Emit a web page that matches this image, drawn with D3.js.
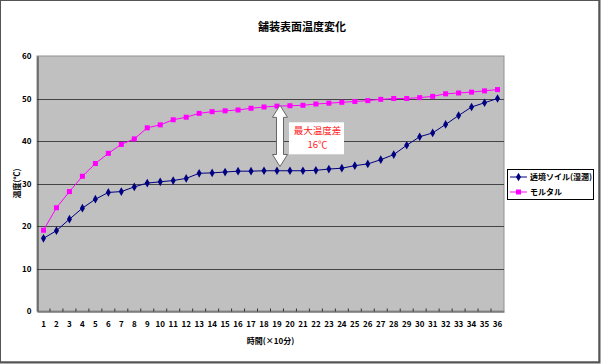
<!DOCTYPE html>
<html>
<head>
<meta charset="utf-8">
<script src="https://cdn.jsdelivr.net/npm/d3@7"></script>
<style>
  body { margin: 0; background: #fff; }
  text { font-family: "Noto Sans CJK JP", "DejaVu Sans", sans-serif; }
</style>
</head>
<body>
<div id="chart"></div>
<script>
const width = 601;
const height = 364;

// data
const steps = d3.range(1, 37).map(String);
const soilValues = [17.1, 18.9, 21.6, 24.2, 26.3, 27.9, 28.1, 29.2, 30.1, 30.4, 30.7, 31.2,
  32.4, 32.5, 32.7, 32.9, 32.9, 33.0, 33.0, 33.0, 33.0, 33.1, 33.4, 33.6,
  34.2, 34.6, 35.6, 36.8, 39.0, 41.0, 41.9, 43.9, 46.0, 48.0, 49.0, 50.0];
const mortarValues = [19.0, 24.3, 28.1, 31.7, 34.7, 37.1, 39.2, 40.5, 43.1, 43.8, 45.0, 45.6,
  46.5, 46.9, 47.1, 47.3, 47.7, 48.0, 48.2, 48.3, 48.4, 48.7, 48.9, 49.1,
  49.3, 49.5, 49.8, 50.0, 50.0, 50.2, 50.5, 51.1, 51.3, 51.5, 51.8, 52.1];
const yTicks = [0, 10, 20, 30, 40, 50, 60];
const seriesNames = ["透境ソイル(湿潤)", "モルタル"];
const titleText = "舗装表面温度変化";
const yTitle = "温度(℃)";
const xTitle = "時間(×10分)";
const noteLines = ["最大温度差", "16℃"];

const plot = { left: 37, right: 504, top: 56, bottom: 311 };

const svg = d3.select("#chart").append("svg")
  .attr("width", width).attr("height", height);

// outer frame
svg.append("rect")
  .attr("x", 0.5).attr("y", 0.5)
  .attr("width", width - 2.5).attr("height", height - 2.5)
  .attr("fill", "#fff").attr("stroke", "#555").attr("stroke-width", 1);
svg.append("path")
  .attr("d", `M${width - 1.5},0V${height - 1.5}H0`)
  .attr("fill", "none").attr("stroke", "#555").attr("stroke-width", 2);

const x = d3.scaleBand().domain(steps).range([plot.left, plot.right]);
const y = d3.scaleLinear().domain([0, 60]).range([plot.bottom, plot.top]);
const cx = (d) => x(d) + x.bandwidth() / 2;

// plot area
svg.append("rect")
  .attr("x", plot.left).attr("y", plot.top)
  .attr("width", plot.right - plot.left).attr("height", plot.bottom - plot.top)
  .attr("fill", "#c0c0c0").attr("stroke", "#909090").attr("stroke-width", 1);

// gridlines
svg.append("g").selectAll("line")
  .data(yTicks.filter((t) => t > 0 && t < 60))
  .enter().append("line")
  .attr("x1", plot.left).attr("x2", plot.right)
  .attr("y1", (d) => Math.round(y(d)) + 0.5).attr("y2", (d) => Math.round(y(d)) + 0.5)
  .attr("stroke", "#444").attr("stroke-width", 1);

// y axis
const yAxis = svg.append("g")
  .attr("transform", `translate(${plot.left + 0.5},0)`)
  .call(d3.axisLeft(y).tickValues(yTicks).tickSize(0).tickPadding(6));
yAxis.select(".domain").attr("stroke", "#333");
yAxis.selectAll("text")
  .attr("font-family", "'DejaVu Sans Condensed', 'DejaVu Sans', sans-serif")
  .attr("font-weight", "bold").attr("font-size", 8).attr("fill", "#000");

// x axis with inner ticks between categories
const xAxis = svg.append("g")
  .attr("transform", `translate(0,${plot.bottom + 0.5})`)
  .call(d3.axisBottom(x).tickSize(0).tickPadding(10));
xAxis.select(".domain").attr("stroke", "#333");
xAxis.selectAll("text")
  .attr("font-family", "'DejaVu Sans Condensed', 'DejaVu Sans', sans-serif")
  .attr("font-weight", "bold").attr("font-size", 8).attr("fill", "#000");
xAxis.selectAll(".sep")
  .data(steps.slice(1))
  .enter().append("line")
  .attr("class", "sep")
  .attr("x1", (d) => x(d)).attr("x2", (d) => x(d))
  .attr("y1", 0).attr("y2", -3)
  .attr("stroke", "#333");

// lines
const line = d3.line().x((d, i) => cx(steps[i])).y((d) => y(d));

svg.append("path")
  .attr("d", line(mortarValues))
  .attr("fill", "none").attr("stroke", "#ff00ff").attr("stroke-width", 1);
svg.append("path")
  .attr("d", line(soilValues))
  .attr("fill", "none").attr("stroke", "#000080").attr("stroke-width", 1);

// markers
svg.append("g").selectAll("rect")
  .data(mortarValues).enter().append("rect")
  .attr("x", (d, i) => cx(steps[i]) - 2.5).attr("y", (d) => y(d) - 2.5)
  .attr("width", 5).attr("height", 5)
  .attr("fill", "#ff00ff");

const diamond = d3.symbol().type(d3.symbolDiamond).size(22);
svg.append("g").selectAll("path")
  .data(soilValues).enter().append("path")
  .attr("transform", (d, i) => `translate(${cx(steps[i])},${y(d)})`)
  .attr("d", diamond)
  .attr("fill", "#000080");

// annotation: double arrow + text box
const ax = cx("19") + 3;
const aTop = y(48.4);
const aBot = y(34.0);
const headW = 7.5, shaftW = 3.5, headH = 12;
const arrow = [
  [ax, aTop], [ax + headW, aTop + headH], [ax + shaftW, aTop + headH],
  [ax + shaftW, aBot - headH], [ax + headW, aBot - headH], [ax, aBot],
  [ax - headW, aBot - headH], [ax - shaftW, aBot - headH],
  [ax - shaftW, aTop + headH], [ax - headW, aTop + headH]
];
svg.append("path")
  .attr("d", d3.line()(arrow) + "Z")
  .attr("fill", "#fff").attr("stroke", "#666").attr("stroke-width", 1);

const box = { x: ax + 9, y: y(44.4), w: 55, h: 32 };
svg.append("rect")
  .attr("x", box.x).attr("y", box.y).attr("width", box.w).attr("height", box.h)
  .attr("fill", "#fff");
svg.append("g").selectAll("text")
  .data(noteLines).enter().append("text")
  .attr("x", box.x + box.w / 2 + 1)
  .attr("y", (d, i) => box.y + 12 + i * 14)
  .attr("text-anchor", "middle")
  .attr("font-size", 9.5).attr("fill", "#ff2020")
  .text((d) => d);

// titles
svg.append("text")
  .attr("x", 302).attr("y", 31)
  .attr("text-anchor", "middle")
  .attr("font-size", 11).attr("font-weight", "bold")
  .text(titleText);

svg.append("text")
  .attr("transform", `translate(20,${(plot.top + plot.bottom) / 2}) rotate(-90)`)
  .attr("text-anchor", "middle")
  .attr("font-size", 8).attr("font-weight", "bold")
  .text(yTitle);

svg.append("text")
  .attr("x", (plot.left + plot.right) / 2).attr("y", 344)
  .attr("text-anchor", "middle")
  .attr("font-size", 8).attr("font-weight", "bold")
  .text(xTitle);

// legend
const legend = svg.append("g").attr("transform", "translate(507,169)");
legend.append("rect")
  .attr("x", 0.5).attr("y", 0.5).attr("width", 86).attr("height", 30)
  .attr("fill", "#fff").attr("stroke", "#000");

const legendItems = [
  { name: seriesNames[0], color: "#000080", shape: "diamond" },
  { name: seriesNames[1], color: "#ff00ff", shape: "square" }
];
const item = legend.selectAll(".item").data(legendItems).enter().append("g")
  .attr("class", "item")
  .attr("transform", (d, i) => `translate(0,${8 + i * 15})`);
item.append("line")
  .attr("x1", 3).attr("x2", 20).attr("y1", 0).attr("y2", 0)
  .attr("stroke", (d) => d.color);
item.filter((d) => d.shape === "diamond").append("path")
  .attr("transform", "translate(11.5,0)").attr("d", diamond)
  .attr("fill", (d) => d.color);
item.filter((d) => d.shape === "square").append("rect")
  .attr("x", 9).attr("y", -2.5).attr("width", 5).attr("height", 5)
  .attr("fill", (d) => d.color);
item.append("text")
  .attr("x", 23).attr("y", 3)
  .attr("font-size", 8).attr("font-weight", "bold")
  .text((d) => d.name);
</script>
</body>
</html>
